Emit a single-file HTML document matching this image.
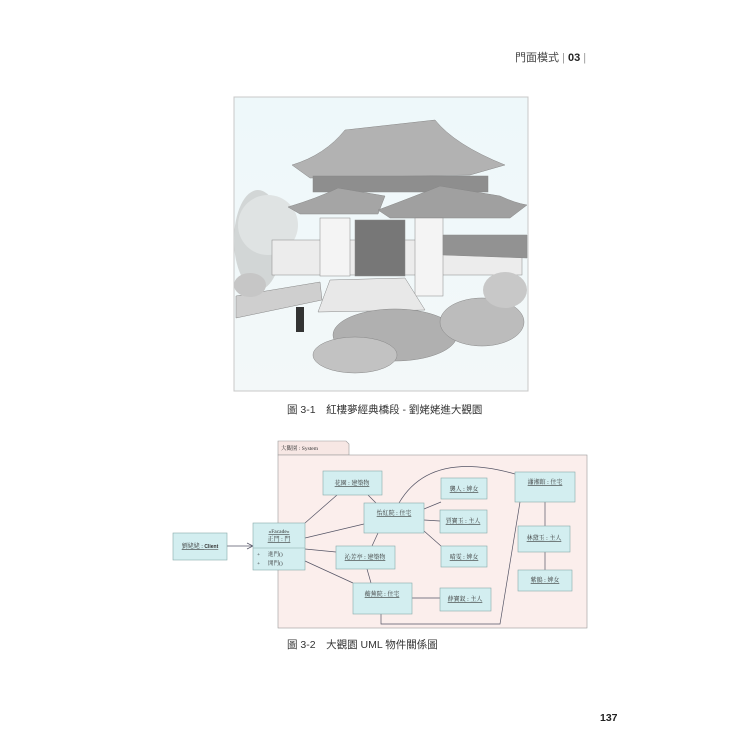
<!DOCTYPE html>
<html><head><meta charset="utf-8"><style>
html,body{margin:0;padding:0;background:#fff;}
body{width:750px;height:750px;position:relative;overflow:hidden;font-family:"Liberation Sans","Noto Sans CJK TC",sans-serif;}
.t{position:absolute;white-space:nowrap;color:#333;}
</style></head><body>
<div class="t" style="left:515px;top:49px;font-size:11px;color:#444;">門面模式 <span style="color:#999">|</span> <b style="color:#222">03</b> <span style="color:#999">|</span></div>

<svg style="position:absolute;left:0;top:0" width="750" height="750" xmlns="http://www.w3.org/2000/svg">
<defs>
<linearGradient id="sky" x1="0" y1="0" x2="0" y2="1"><stop offset="0" stop-color="#eef8fa"/><stop offset="1" stop-color="#f3f8f9"/></linearGradient>
</defs>
<rect x="234" y="97" width="294" height="294" fill="url(#sky)" stroke="#c8c8c8" stroke-width="1"/>
<g stroke="#888" stroke-width="0.5">
<ellipse cx="258" cy="240" rx="24" ry="50" fill="#d2d6d6" stroke="none"/>
<ellipse cx="268" cy="225" rx="30" ry="30" fill="#dfe3e3" stroke="none"/>
<rect x="272" y="240" width="250" height="35" fill="#ececec"/>
<path d="M292 165 Q325 155 345 130 L435 120 Q455 145 505 165 L470 175 L310 178 Z" fill="#b2b2b2"/>
<rect x="313" y="176" width="175" height="16" fill="#8e8e8e"/>
<path d="M288 207 Q318 198 338 188 L385 196 L378 214 L300 214Z" fill="#a5a5a5"/>
<path d="M378 210 Q418 195 440 186 L500 196 Q515 203 527 205 L510 218 L390 218Z" fill="#a0a0a0"/>
<rect x="320" y="218" width="30" height="58" fill="#f4f4f4"/>
<rect x="415" y="218" width="28" height="78" fill="#f4f4f4"/>
<rect x="355" y="220" width="50" height="56" fill="#777"/>
<path d="M443 235 L527 235 L527 258 L443 255Z" fill="#929292"/>
<path d="M330 280 L405 278 L425 310 L318 312Z" fill="#e8e8e8"/>
<path d="M236 296 L320 282 L322 300 L236 318Z" fill="#cfcfcf"/>
<ellipse cx="250" cy="285" rx="16" ry="12" fill="#c6c6c6" stroke="none"/>
<ellipse cx="395" cy="335" rx="62" ry="26" fill="#b0b0b0"/>
<ellipse cx="482" cy="322" rx="42" ry="24" fill="#bcbcbc"/>
<ellipse cx="505" cy="290" rx="22" ry="18" fill="#c8c8c8" stroke="none"/>
<ellipse cx="355" cy="355" rx="42" ry="18" fill="#c2c2c2"/>
<rect x="296" y="307" width="8" height="25" fill="#333" stroke="none"/>
</g>
<text x="287" y="413" font-size="10.5" fill="#333" font-family="Liberation Sans,Noto Sans CJK TC,sans-serif">圖 3-1　紅樓夢經典橋段 - 劉姥姥進大觀園</text>

<g font-family="Liberation Serif,Noto Serif CJK SC,serif" font-size="6" fill="#333">
<path d="M278 441 H346 L349 444 V455 H278Z" fill="#f7e7e4" stroke="#999" stroke-width="0.6"/>
<rect x="278" y="455" width="309" height="173" fill="#fbeeec" stroke="#999" stroke-width="0.6"/>
<text x="281" y="450" font-size="5.5">大觀園 : System</text>
<g stroke="#556" stroke-width="0.7" fill="none">
<line x1="227" y1="546" x2="253" y2="546"/>
<path d="M247 543 L253 546 L247 549"/>
<line x1="305" y1="523" x2="337" y2="495"/>
<line x1="305" y1="538" x2="364" y2="524"/>
<line x1="305" y1="549" x2="336" y2="552"/>
<line x1="305" y1="561" x2="353" y2="583"/>
<line x1="368" y1="495" x2="376" y2="503"/>
<line x1="424" y1="509" x2="441" y2="502"/>
<line x1="424" y1="520" x2="440" y2="521"/>
<line x1="424" y1="531" x2="441" y2="546"/>
<line x1="378" y1="533" x2="372" y2="546"/>
<line x1="367" y1="569" x2="371" y2="583"/>
<line x1="412" y1="598" x2="440" y2="598"/>
<path d="M399 503 Q430 450 515 474"/>
<path d="M381 614 V624 H500 L520 502"/>
<line x1="545" y1="502" x2="545" y2="526"/>
<line x1="545" y1="552" x2="545" y2="570"/>
</g>
<g fill="#d3eef0" stroke="#8aa" stroke-width="0.6">
<rect x="173" y="533" width="54" height="27"/>
<rect x="253" y="523" width="52" height="47"/>
<rect x="323" y="471" width="59" height="24"/>
<rect x="364" y="503" width="60" height="30"/>
<rect x="441" y="478" width="46" height="21"/>
<rect x="440" y="510" width="47" height="23"/>
<rect x="441" y="546" width="46" height="21"/>
<rect x="336" y="546" width="59" height="23"/>
<rect x="353" y="583" width="59" height="31"/>
<rect x="440" y="588" width="51" height="23"/>
<rect x="515" y="472" width="60" height="30"/>
<rect x="518" y="526" width="52" height="26"/>
<rect x="518" y="570" width="54" height="21"/>
</g>
<line x1="253" y1="548" x2="305" y2="548" stroke="#8aa" stroke-width="0.6"/>
<g text-decoration="underline" text-anchor="middle">
<text x="200" y="548">劉姥姥 : <tspan font-family="Liberation Sans" font-weight="bold" font-size="5">Client</tspan></text>
<text x="279" y="533" text-decoration="none" font-size="5.5">«Facade»</text>
<text x="279" y="541">正門 : 門</text>
<text x="352" y="485">花園 : 建築物</text>
<text x="394" y="515">怡紅院 : 住宅</text>
<text x="464" y="491">襲人 : 婢女</text>
<text x="463" y="523">賈寶玉 : 主人</text>
<text x="464" y="559">晴雯 : 婢女</text>
<text x="365" y="559">沁芳亭 : 建築物</text>
<text x="382" y="596">蘅蕪院 : 住宅</text>
<text x="465" y="601">薛寶釵 : 主人</text>
<text x="545" y="484">瀟湘館 : 住宅</text>
<text x="544" y="540">林黛玉 : 主人</text>
<text x="545" y="582">紫鵑 : 婢女</text>
</g>
<text x="257" y="556" font-size="5.5">+</text><text x="268" y="556" font-size="5.5">進門()</text>
<text x="257" y="565" font-size="5.5">+</text><text x="268" y="565" font-size="5.5">開門()</text>
</g>
<text x="287" y="648" font-size="10.5" fill="#333" font-family="Liberation Sans,Noto Sans CJK TC,sans-serif">圖 3-2　大觀園 UML 物件關係圖</text>
<text x="600" y="721" font-size="10.5" font-weight="bold" fill="#222" font-family="Liberation Sans,sans-serif">137</text>
</svg>
</body></html>
